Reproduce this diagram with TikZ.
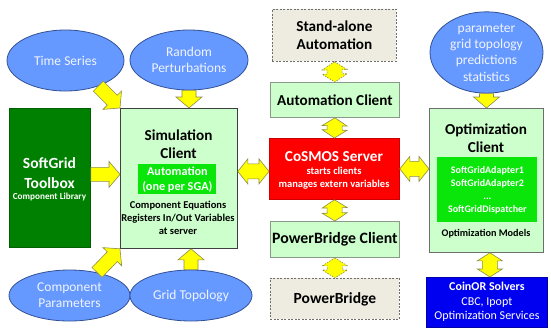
\documentclass[tikz,border=0pt]{standalone}
\usepackage{fontspec}
\setmainfont{Carlito}
\usetikzlibrary{calc,shapes.geometric}

\definecolor{paleGreen}{RGB}{204,255,204}
\definecolor{darkGreen}{RGB}{0,128,0}
\definecolor{limeGreen}{RGB}{10,230,10}
\definecolor{serverRed}{RGB}{255,0,0}
\definecolor{solverBlue}{RGB}{0,0,240}
\definecolor{skyBlue}{RGB}{102,153,255}
\definecolor{skyEdge}{RGB}{50,80,150}
\definecolor{sandFill}{RGB}{238,236,225}
\definecolor{boxGray}{RGB}{110,110,110}
\definecolor{arrowFill}{RGB}{255,255,0}
\definecolor{arrowEdge}{RGB}{140,140,80}
\definecolor{ellipseText}{RGB}{240,244,255}

% single block arrow: [style]{tail}{tip}
\newcommand\yarrow[3][]{%
  \coordinate (ya-h) at ($(#3)!11pt!(#2)$);
  \draw[blockarrow,#1] ($(#2)!7pt!90:(#3)$) -- ($(ya-h)!7pt!90:(#3)$)
    -- ($(ya-h)!13pt!90:(#3)$) -- (#3) -- ($(ya-h)!13pt!-90:(#3)$)
    -- ($(ya-h)!7pt!-90:(#3)$) -- ($(#2)!7pt!-90:(#3)$) -- cycle;
}
% double block arrow: [style]{head length}{end a}{end b}
\newcommand\ydarrow[4][]{%
  \coordinate (yd-a) at ($(#3)!#2!(#4)$);
  \coordinate (yd-b) at ($(#4)!#2!(#3)$);
  \draw[blockarrow,#1] (#3) -- ($(yd-a)!12.5pt!90:(#4)$) -- ($(yd-a)!7.5pt!90:(#4)$)
    -- ($(yd-b)!7.5pt!90:(#4)$) -- ($(yd-b)!12.5pt!90:(#4)$) -- (#4)
    -- ($(yd-b)!12.5pt!-90:(#4)$) -- ($(yd-b)!7.5pt!-90:(#4)$)
    -- ($(yd-a)!7.5pt!-90:(#4)$) -- ($(yd-a)!12.5pt!-90:(#4)$) -- cycle;
}

\begin{document}
\begin{tikzpicture}[x=1pt,y=-1pt,
  box/.style={inner sep=0pt, anchor=north west, line width=0.8pt, align=center},
  greenbox/.style={box, draw=boxGray, fill=paleGreen},
  dashbox/.style={box, draw=boxGray, fill=sandFill, dash pattern=on 2pt off 1.5pt},
  oval/.style={ellipse, draw=skyEdge, fill=skyBlue, line width=0.8pt, inner sep=0pt,
    text=ellipseText, align=center, font=\fontsize{13.5}{16.3}\selectfont},
  bigbold/.style={font=\fontsize{15.2}{18}\selectfont\bfseries},
  smallbold/.style={font=\fontsize{10.5}{13.2}\selectfont\bfseries},
  blockarrow/.style={draw=arrowEdge, fill=arrowFill, line width=0.6pt, line join=miter},
  dashedarrow/.style={dash pattern=on 1.5pt off 1.2pt}]
\useasboundingbox (0,0) rectangle (551,327);

% ---- input ellipses
\node[oval, minimum width=117pt, minimum height=61pt] (ts) at (65.5,60.5) {Time Series};
\node[oval, minimum width=118pt, minimum height=60pt] (rp) at (189,60) {Random\\Perturbations};
\node[oval, minimum width=121pt, minimum height=51pt] (cp) at (69.5,295.5) {Component\\Parameters};
\node[oval, minimum width=122pt, minimum height=51pt] (gt) at (191,295.5) {Grid Topology};
\node[oval, minimum width=113pt, minimum height=75pt] (pe) at (486.5,52.5)
  {parameter\\grid topology\\predictions\\statistics};

% ---- toolbox
\node[box, draw=darkGreen!75!black, fill=darkGreen, minimum width=81pt, minimum height=139pt] (tb) at (9,108) {};
\node[text=white, align=center, font=\fontsize{15.5}{19.5}\selectfont\bfseries] (tbt) at (49.5,173) {SoftGrid\\Toolbox};
\node[text=white, font=\fontsize{9.2}{11}\selectfont\bfseries] (tbl) at (49.5,197) {Component Library};

% ---- simulation client
\node[greenbox, draw=black!75, minimum width=117pt, minimum height=140pt] (sim) at (120,108) {};
\node[bigbold, align=center] (simt) at (178.5,144) {Simulation\\Client};
\node[box, fill=limeGreen, minimum width=78pt, minimum height=30pt, text=white,
  font=\fontsize{12.2}{15}\selectfont\bfseries] (auto) at (138,164) {Automation\\(one per SGA)};
\node[smallbold, align=center] (simd) at (178,218) {Component Equations\\Registers In/Out Variables\\at server};

% ---- central column
\node[dashbox, minimum width=124pt, minimum height=52pt, bigbold] (sa) at (272,9) {Stand-alone\\Automation};
\node[greenbox, draw=boxGray!70!paleGreen, minimum width=129pt, minimum height=35pt, bigbold] (ac) at (270,82) {Automation Client};
\node[box, draw=serverRed!80!black, fill=serverRed, minimum width=130pt, minimum height=61pt] (cs) at (269,138) {};
\node[bigbold, text=white] (cst) at (334,157) {CoSMOS Server};
\node[smallbold, text=white, align=center] (csd) at (334,178.5) {starts clients\\manages extern variables};
\node[greenbox, draw=boxGray!70!paleGreen, minimum width=129pt, minimum height=36pt,
  font=\fontsize{15.8}{18}\selectfont\bfseries] (pc) at (270,221) {PowerBridge Client};
\node[dashbox, minimum width=129pt, minimum height=41pt, font=\fontsize{15.5}{18}\selectfont\bfseries] (pb) at (270,278) {PowerBridge};

% ---- optimization client
\node[greenbox, minimum width=114pt, minimum height=144pt] (oc) at (429,108) {};
\node[bigbold, align=center] (oct) at (486,138.5) {Optimization\\Client};
\node[box, fill=limeGreen, minimum width=100pt, minimum height=65pt, text=white,
  font=\fontsize{10}{13}\selectfont\bfseries] (oi) at (437,157)
  {SoftGridAdapter1\\SoftGridAdapter2\\...\\SoftGridDispatcher};
\node[smallbold, font=\fontsize{10.2}{12}\selectfont\bfseries] (ocm) at (486,234) {Optimization Models};
\node[box, draw=solverBlue!70!black, fill=solverBlue, minimum width=121pt, minimum height=49.5pt, text=white,
  font=\fontsize{12}{14.5}\selectfont] (co) at (426,277) {\textbf{CoinOR Solvers}\\CBC, Ipopt\\Optimization Services};

% ---- arrow end points
\coordinate (rpT) at (rp.south);
\coordinate (rpH) at (rp.south |- sim.north);
\coordinate (gtT) at (gt.north);
\coordinate (gtH) at (gt.north |- sim.south);
\coordinate (peT) at (pe.south);
\coordinate (peH) at (pe.south |- oc.north);
\coordinate (tbT) at ($(tb.east)+(0,-3.5)$);
\coordinate (tbH) at (sim.west |- tbT);
\coordinate (simR) at ($(sim.east |- cs.west)+(0,2.5)$);
\coordinate (csL) at ($(cs.west)+(0,2.5)$);
\coordinate (csR) at (cs.east);
\coordinate (ocL) at (cs.east -| oc.west);
\coordinate (ocB) at ($(oc.south)+(3.5,0)$);
\coordinate (coT) at (ocB |- co.north);

% ---- input arrows
\yarrow{ts.-38}{sim.north west}
\yarrow{rpT}{rpH}
\yarrow{cp.40}{sim.south west}
\yarrow{gtT}{gtH}
\yarrow{peT}{peH}
\yarrow{tbT}{tbH}

% ---- two-way links
\ydarrow{10pt}{simR}{csL}
\ydarrow{10pt}{csR}{ocL}
\ydarrow[dashedarrow]{8pt}{sa.south}{ac.north}
\ydarrow{8pt}{ac.south}{cs.north}
\ydarrow{8pt}{cs.south}{pc.north}
\ydarrow[dashedarrow]{8pt}{pc.south}{pb.north}
\ydarrow{8pt}{ocB}{coT}
\end{tikzpicture}
\end{document}
